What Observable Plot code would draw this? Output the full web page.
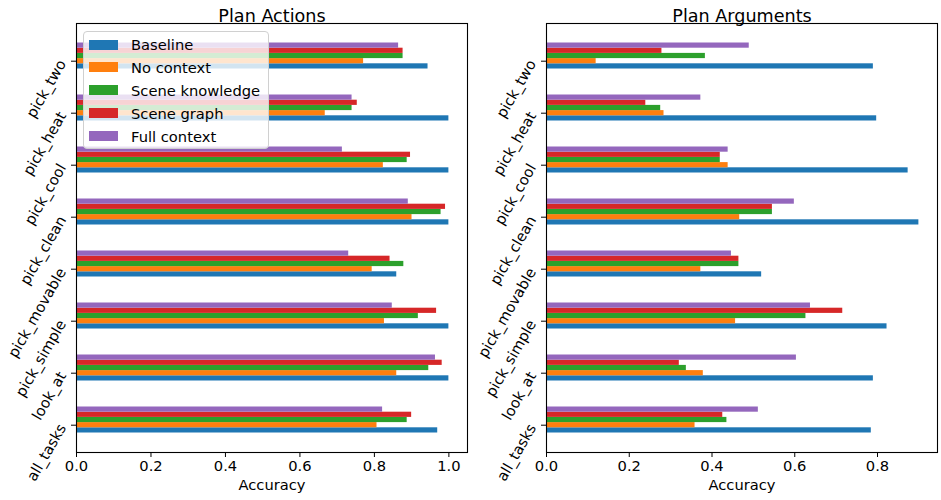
<!DOCTYPE html>
<html><head><meta charset="utf-8">
<script src="https://cdn.jsdelivr.net/npm/d3@7"></script>
<script src="https://cdn.jsdelivr.net/npm/@observablehq/plot@0.6"></script>
<style>
body{margin:0;background:#fff;font-family:"DejaVu Sans",sans-serif;}
#wrap{position:relative;width:941px;height:500px;display:flex;}
#wrap svg{display:block;}
.legend{position:absolute;left:83px;top:31px;width:186px;height:118px;box-sizing:border-box;background:rgba(255,255,255,0.8);border:1px solid #d0d0d0;border-radius:4px;}
.row{position:absolute;left:0;height:23px;line-height:23px;font-size:14.7px;color:#000;white-space:nowrap;}
.sw{position:absolute;left:5px;top:6.5px;width:29px;height:10px;}
.lab{position:absolute;left:47px;top:0;}
</style>
</head><body>
<div id="wrap"></div>
<script>
const categories = ["all_tasks","look_at","pick_simple","pick_movable","pick_clean","pick_cool","pick_heat","pick_two"];
const series = ["Baseline","No context","Scene knowledge","Scene graph","Full context"];
const colors = ["#1f77b4","#ff7f0e","#2ca02c","#d62728","#9467bd"];

// Plan Actions (values in category order)
const actBaseline  = [0.970, 1.000, 1.000, 0.860, 1.000, 1.000, 1.000, 0.944];
const actNoContext = [0.807, 0.860, 0.827, 0.794, 0.901, 0.824, 0.668, 0.771];
const actSceneKnow = [0.888, 0.946, 0.918, 0.879, 0.979, 0.888, 0.740, 0.877];
const actSceneGraph= [0.900, 0.982, 0.967, 0.842, 0.991, 0.897, 0.754, 0.877];
const actFull      = [0.822, 0.964, 0.848, 0.731, 0.891, 0.714, 0.740, 0.865];

// Plan Arguments
const argBaseline  = [0.785, 0.790, 0.823, 0.520, 0.900, 0.874, 0.798, 0.790];
const argNoContext = [0.359, 0.379, 0.457, 0.373, 0.467, 0.439, 0.284, 0.120];
const argSceneKnow = [0.436, 0.338, 0.627, 0.465, 0.546, 0.420, 0.276, 0.384];
const argSceneGraph= [0.426, 0.321, 0.716, 0.465, 0.546, 0.420, 0.240, 0.279];
const argFull      = [0.512, 0.604, 0.638, 0.447, 0.599, 0.439, 0.373, 0.490];

const xTicksActions = [0, 0.2, 0.4, 0.6, 0.8, 1.0];
const xTicksArgs = [0, 0.2, 0.4, 0.6, 0.8];

function panel(title, values, xmax, xticks, width, mr) {
  const rows = [];
  series.forEach((s, k) => values[k].forEach((v, i) => rows.push({series: s, k, i, v})));
  const bw = 0.1;
  return Plot.plot({
    width, height: 500,
    marginLeft: 76, marginRight: mr, marginTop: 23, marginBottom: 48,
    style: {fontFamily: "DejaVu Sans", fontSize: "14.7px", color: "#000", background: "#fff", overflow: "visible"},
    x: {domain: [0, xmax]},
    y: {domain: [-0.525, 7.725]},
    color: {domain: series, range: colors},
    marks: [
      Plot.rectX(rows, {
        x1: 0, x2: "v",
        y1: d => d.i + (d.k - 1) * bw - bw / 2,
        y2: d => d.i + (d.k - 1) * bw + bw / 2,
        fill: "series", inset: 0
      }),
      Plot.frame({stroke: "black", strokeWidth: 1.1}),
      Plot.axisX({ticks: xticks, tickFormat: d3.format(".1f"), tickSize: 5, tickPadding: 3, label: null, fontSize: 14.7}),
      Plot.axisY({ticks: d3.range(categories.length), tickFormat: i => categories[i], tickRotate: -60, tickSize: 5, tickPadding: 9, label: null, fontSize: 14.7}),
      Plot.text([title], {frameAnchor: "top", dy: -14, fontSize: 17.6, text: d => d}),
      Plot.text(["Accuracy"], {frameAnchor: "bottom", dy: 37, fontSize: 14.7, text: d => d})
    ]
  });
}

const wrap = document.getElementById("wrap");
wrap.appendChild(panel("Plan Actions", [actBaseline, actNoContext, actSceneKnow, actSceneGraph, actFull], 1.05, xTicksActions, 470, 3));
wrap.appendChild(panel("Plan Arguments", [argBaseline, argNoContext, argSceneKnow, argSceneGraph, argFull], 0.945, xTicksArgs, 471, 4));

const leg = document.createElement("div");
leg.className = "legend";
series.forEach((s, k) => {
  const r = document.createElement("div");
  r.className = "row";
  r.style.top = (1 + k * 22.9) + "px";
  r.innerHTML = `<span class="sw" style="background:${colors[k]}"></span><span class="lab">${s}</span>`;
  leg.appendChild(r);
});
wrap.appendChild(leg);
</script>
</body></html>
